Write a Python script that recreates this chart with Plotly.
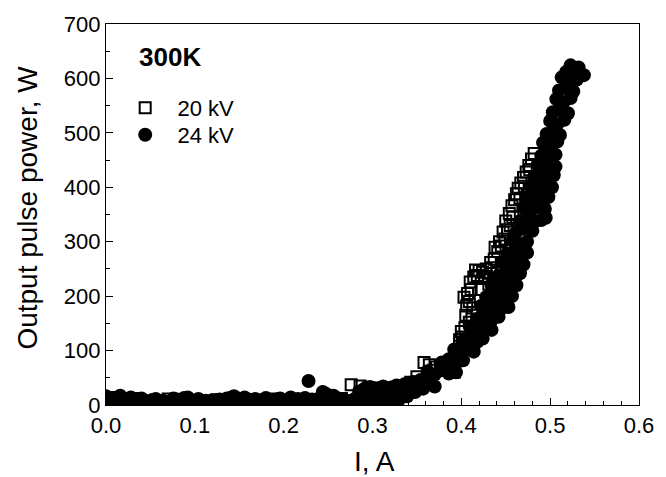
import plotly.graph_objects as go

# ---- data ----
# 20 kV (open squares)
kv20_x = [0.005, 0.015, 0.030, 0.050, 0.070, 0.090, 0.110, 0.130, 0.150, 0.170, 0.190, 0.210, 0.230, 0.250, 0.265,
          0.276, 0.286, 0.296, 0.306, 0.316, 0.326, 0.335, 0.343, 0.350, 0.358, 0.364, 0.372, 0.382, 0.392, 0.390,
          0.394, 0.398, 0.401, 0.404, 0.409, 0.405, 0.413, 0.409, 0.403, 0.407, 0.410, 0.414, 0.416, 0.420, 0.424,
          0.428, 0.431, 0.434, 0.440, 0.445, 0.437, 0.441, 0.445, 0.449, 0.452, 0.450, 0.454, 0.457, 0.460, 0.462,
          0.464, 0.467, 0.470, 0.473, 0.476, 0.479, 0.482,
          0.396, 0.400, 0.406, 0.411, 0.418, 0.426, 0.433, 0.438, 0.443, 0.447, 0.455, 0.458, 0.466, 0.471, 0.477,
          0.386, 0.378, 0.369, 0.398, 0.412, 0.422]
kv20_y = [14, 10, 12, 8, 11, 9, 7, 10, 12, 9, 11, 8, 10, 14, 12,
          37, 35, 32, 30, 26, 30, 35, 42, 52, 78, 74, 70, 66, 60, 78,
          92, 108, 125, 142, 152, 165, 178, 190, 198, 205, 226, 235, 248, 247, 244,
          250, 222, 252, 245, 258, 268, 282, 292, 305, 322, 338, 352, 366, 377, 388,
          398, 408, 418, 428, 440, 452, 462,
          85, 135, 182, 212, 238, 236, 262, 290, 300, 318, 330, 345, 380, 402, 432,
          72, 68, 64, 120, 165, 212]

# 24 kV (filled circles)
kv24_x = [0.000, 0.004, 0.008, 0.012, 0.016, 0.020, 0.024, 0.028, 0.032, 0.036, 0.040, 0.044, 0.048, 0.052, 0.056,
          0.060, 0.064, 0.068, 0.072, 0.076, 0.080, 0.084, 0.088, 0.092, 0.096, 0.100, 0.104, 0.108, 0.112, 0.116,
          0.120, 0.124, 0.128, 0.132, 0.136, 0.140, 0.144, 0.148, 0.152, 0.156, 0.160, 0.164, 0.168, 0.172, 0.176,
          0.180, 0.184, 0.188, 0.192, 0.196, 0.200, 0.204, 0.208, 0.212, 0.216, 0.220, 0.224, 0.228, 0.232, 0.236,
          0.240, 0.244, 0.248, 0.252, 0.256, 0.260, 0.264, 0.268, 0.272, 0.276, 0.280,
          0.002, 0.018, 0.034, 0.078, 0.090, 0.146, 0.150, 0.245, 0.250, 0.258, 0.226,
          0.282, 0.285, 0.288, 0.291, 0.294, 0.297, 0.300, 0.303, 0.306, 0.309, 0.312, 0.315, 0.318, 0.321, 0.324,
          0.327, 0.330, 0.333, 0.336, 0.339, 0.342, 0.345, 0.348, 0.351, 0.354, 0.357, 0.360,
          0.338, 0.346, 0.354, 0.362, 0.370,
          0.362, 0.370, 0.378, 0.386, 0.394,
          0.378, 0.386, 0.394, 0.402,
          0.392, 0.400, 0.408, 0.414,
          0.402, 0.410, 0.418, 0.424,
          0.410, 0.418, 0.426, 0.434,
          0.418, 0.426, 0.434, 0.442,
          0.422, 0.430, 0.438, 0.446, 0.453,
          0.428, 0.436, 0.444, 0.452, 0.457,
          0.434, 0.442, 0.450, 0.458, 0.462,
          0.442, 0.450, 0.458, 0.466,
          0.446, 0.454, 0.462, 0.470,
          0.452, 0.460, 0.468, 0.474,
          0.458, 0.466, 0.474,
          0.462, 0.470, 0.480,
          0.466, 0.474, 0.482, 0.490, 0.495,
          0.470, 0.478, 0.486, 0.494,
          0.474, 0.482, 0.490, 0.498,
          0.478, 0.486, 0.494, 0.502,
          0.482, 0.490, 0.498, 0.504,
          0.486, 0.494, 0.502, 0.506,
          0.490, 0.498, 0.506,
          0.492, 0.500, 0.508,
          0.496, 0.504, 0.511,
          0.500, 0.508, 0.516,
          0.503, 0.511, 0.520,
          0.507, 0.515, 0.523,
          0.510, 0.518, 0.526,
          0.513, 0.521, 0.530,
          0.518, 0.526, 0.538,
          0.523, 0.532]
kv24_y = [16, 9, 3, 13, 17, 6, 11, 14, 4, 10, 12, 7, 2, 9, 11,
          5, 8, 3, 6, 12, 10, 4, 13, 14, 9, 5, 11, 3, 8, 6,
          9, 4, 10, 7, 12, 13, 16, 10, 8, 14, 10, 6, 11, 4, 9,
          13, 7, 3, 10, 12, 6, 9, 14, 5, 11, 8, 13, 44, 10, 7,
          12, 24, 20, 6, 17, 13, 5, 10, 3, 8, 11,
          4, 8, 6, 3, 4, 7, 2, 10, 4, 6, 3,
          6, 25, 14, 30, 8, 33, 18, 5, 31, 12, 34, 20, 4, 32, 15,
          36, 10, 28, 38, 16, 33, 42, 24, 38, 46, 30, 48,
          38, 42, 36, 44, 34,
          62, 56, 64, 58, 60,
          78, 84, 76, 82,
          102, 96, 104, 98,
          118, 124, 116, 122,
          142, 136, 144, 138,
          158, 164, 156, 162,
          182, 176, 184, 178, 180,
          198, 204, 196, 202, 200,
          222, 216, 224, 218, 220,
          238, 244, 236, 242,
          262, 256, 264, 258,
          278, 284, 276, 280,
          302, 296, 300,
          318, 324, 320,
          338, 342, 336, 340, 344,
          362, 356, 364, 360,
          378, 384, 376, 382,
          402, 396, 404, 400,
          418, 424, 416, 422,
          442, 436, 444, 438,
          458, 464, 460,
          482, 476, 484,
          498, 504, 496,
          522, 516, 524,
          538, 544, 536,
          562, 556, 564,
          578, 584, 576,
          602, 596, 598,
          612, 618, 606,
          624, 620]

series_names = ["20 kV", "24 kV"]
x_ticks = [0.0, 0.1, 0.2, 0.3, 0.4, 0.5, 0.6]
y_ticks = [0, 100, 200, 300, 400, 500, 600, 700]
x_title = "I, A"
y_title = "Output pulse power, W"
panel_label = "300K"

FONT = "'Liberation Sans', Arial, sans-serif"
NB = "\u00a0\u00a0"

fig = go.Figure()
fig.add_trace(go.Scatter(
    x=kv20_x, y=kv20_y, mode="markers", name=NB + series_names[0], legend="legend",
    marker=dict(symbol="square-open", size=11, color="black", line=dict(width=2, color="black")),
))
fig.add_trace(go.Scatter(
    x=kv24_x, y=kv24_y, mode="markers", name=NB + series_names[1], legend="legend2",
    marker=dict(symbol="circle", size=14, color="black", line=dict(width=0)),
))

axis_common = dict(
    showline=True, linecolor="black", linewidth=1.2, mirror=True,
    ticks="inside", ticklen=7, tickwidth=1.2, tickcolor="black",
    showgrid=False, zeroline=False,
    tickfont=dict(family=FONT, size=22, color="black"),
)

fig.update_xaxes(
    range=[0, 0.6], tickvals=x_ticks, ticktext=[f"{v:.1f}" for v in x_ticks],
    minor=dict(dtick=0.02, ticks="inside", ticklen=4, tickwidth=1.2, tickcolor="black", showgrid=False),
    **axis_common,
)
fig.update_yaxes(
    range=[0, 700], tickvals=y_ticks,
    minor=dict(dtick=50, ticks="inside", ticklen=4, tickwidth=1.2, tickcolor="black", showgrid=False),
    **axis_common,
)

# axis titles and panel label
fig.add_annotation(
    text=x_title, xref="paper", yref="paper", x=0.5037, y=-0.147, height=32,
    xanchor="center", yanchor="middle", showarrow=False,
    font=dict(family=FONT, size=28, color="black"),
)
fig.add_annotation(
    text=y_title, xref="paper", yref="paper", x=-0.149, y=0.517, textangle=-90,
    xanchor="center", yanchor="middle", showarrow=False,
    font=dict(family=FONT, size=28, color="black"),
)
fig.add_annotation(
    text="<b>" + panel_label + "</b>", xref="paper", yref="paper", x=0.059, y=0.913,
    xanchor="left", yanchor="middle", showarrow=False,
    font=dict(family=FONT, size=26, color="black"),
)

leg_common = dict(
    xanchor="left", yanchor="top",
    font=dict(family=FONT, size=22, color="black"),
    bgcolor="rgba(0,0,0,0)", borderwidth=0,
    itemsizing="trace",
)

fig.update_layout(
    width=666, height=477,
    margin=dict(l=106, r=18, t=24, b=72),
    paper_bgcolor="white", plot_bgcolor="white",
    font=dict(family=FONT, color="black"),
    showlegend=True,
    legend=dict(x=0.036, y=0.835, **leg_common),
    legend2=dict(x=0.036, y=0.764, **leg_common),
)

fig.write_html("out.html")
